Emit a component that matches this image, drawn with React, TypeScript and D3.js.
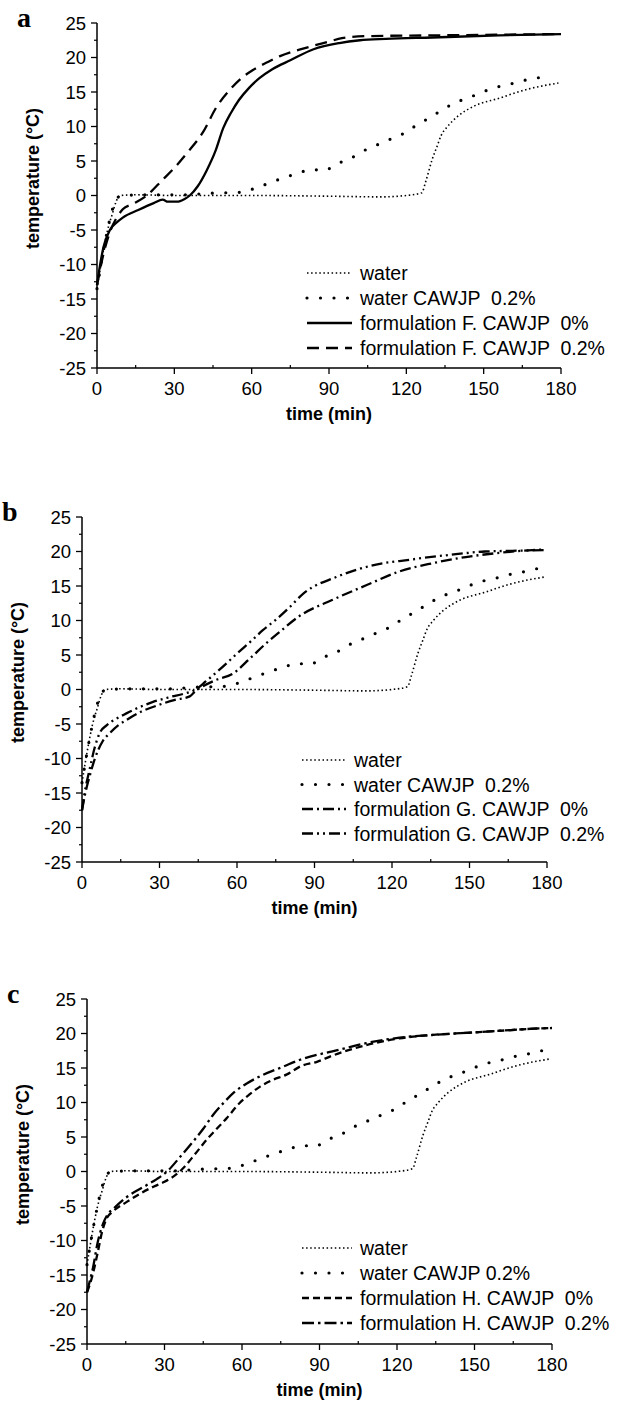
import * as d3 from 'd3'

// [time (min), temperature (°C)]
const water = [[0, -13.5], [2, -9], [4, -5.2], [6, -2.6], [7.5, -0.8], [9, 0], [15, 0.1], [30, 0], [60, 0], [90, -0.1], [110, -0.2], [120, 0], [126, 0.4], [127.5, 2], [130, 5.2], [132, 7.2], [133.5, 8.7], [136, 10], [140, 11.5], [146, 12.9], [156, 14.1], [167, 15.4], [179, 16.3]]
const waterCawjp = [[0, -13.5], [3, -7], [6, -2], [8, -0.3], [10, 0], [20, 0.1], [35, 0.1], [42, 0.3], [50, 0.4], [57, 0.5], [62, 1.2], [67, 1.8], [72.5, 2.6], [78, 3.2], [83, 3.8], [88, 3.6], [93, 4.6], [98, 5.3], [103, 6.4], [108.5, 7.3], [114, 8.2], [119, 9], [124, 10.2], [129.6, 11.4], [134.7, 12.6], [140, 13.6], [145.7, 14.4], [151, 15.2], [156, 15.8], [162, 16.3], [167, 16.8], [173, 17.2], [176, 17.5]]
const formF0 = [[0, -13], [1, -10.5], [2.5, -7.5], [5, -5], [8, -3.8], [10, -3.2], [16, -2.1], [22, -1.1], [25.5, -0.6], [27.5, -0.9], [31, -0.9], [34, -0.5], [36, 0], [39, 1.3], [42.5, 3.6], [46, 6.5], [49, 9.8], [52, 12], [55, 13.8], [59, 15.6], [63, 17], [68, 18.3], [75, 19.6], [84, 21.2], [94, 22.1], [102, 22.5], [112, 22.7], [130, 22.9], [156, 23.2], [180, 23.4]]
const formF02 = [[0, -13], [2.5, -8.5], [5, -5.3], [8, -3], [10, -2], [14, -1.2], [19, -0.1], [25.5, 2.3], [30, 4], [35, 6.2], [41, 9.1], [46.5, 12.9], [51.5, 15.3], [56, 17], [60.5, 18.2], [66, 19.3], [71, 20.2], [81, 21.4], [90, 22.3], [95, 22.8], [105, 23.1], [130, 23.2], [155, 23.3], [180, 23.4]]
const formG0 = [[0, -17.5], [1, -15.5], [3, -12.5], [5, -10], [8, -7.5], [10.8, -6.3], [14, -5.2], [17.3, -4.4], [23, -3.2], [30, -2.2], [36, -1.5], [41.7, -1], [44, -0.2], [47, 0.5], [52, 1.4], [58.4, 2.3], [65, 4.5], [71.3, 6.7], [77, 8.5], [84, 10.6], [97, 13], [110, 15.1], [122.8, 17.1], [135.7, 18.3], [148.6, 19.2], [161.5, 19.8], [174.3, 20.2], [179, 20.3]]
const formG02 = [[0, -17.5], [1, -15], [3, -11.5], [5, -8.3], [7, -6.2], [9.5, -5.2], [13, -4.3], [17, -3.5], [22, -2.6], [27.5, -1.8], [34, -1.1], [40, -0.55], [44, 0], [48, 1.2], [53, 2.8], [60, 5.2], [66, 7.2], [70, 8.6], [75, 10.1], [80, 11.8], [86, 14], [98.4, 16.3], [112.5, 18], [126.7, 18.8], [142, 19.5], [156, 20], [166.5, 20.1], [179, 20.2]]
const formH0 = [[0, -17.5], [1, -16.5], [2.5, -14.5], [4, -12], [6, -8.5], [7.6, -6.8], [10, -5.8], [15.4, -4.4], [25.7, -2.2], [30, -1.5], [33.4, -0.75], [37, 0.4], [42, 2.6], [46.3, 4.6], [50, 6.1], [54, 7.7], [59, 9.9], [62, 10.9], [67, 12.3], [72, 13.3], [77, 14], [83, 15.3], [89, 15.9], [95, 16.8], [108, 18.3], [121, 19.3], [134, 19.8], [147, 20.1], [160, 20.4], [173, 20.7], [180, 20.8]]
const formH02 = [[0, -17.5], [1, -16], [2.4, -13.8], [4, -10.5], [6.3, -7.5], [8, -6.2], [10.2, -5.4], [15.4, -3.7], [23, -2], [27, -1.1], [31, 0], [36, 2.1], [41, 4.3], [45, 6.2], [49, 8.3], [53, 10], [57, 11.5], [62, 12.8], [67, 13.8], [76, 15.2], [82.5, 16.2], [89, 16.9], [95, 17.4], [108, 18.6], [121, 19.4], [134, 19.8], [147, 20.1], [160, 20.4], [173, 20.7], [180, 20.8]]

const yTicks = [25, 20, 15, 10, 5, 0, -5, -10, -15, -20, -25]
const xTicks = [0, 30, 60, 90, 120, 150, 180]

const legendA = ['water', 'water CAWJP  0.2%', 'formulation F. CAWJP  0%', 'formulation F. CAWJP  0.2%']
const legendB = ['water', 'water CAWJP  0.2%', 'formulation G. CAWJP  0%', 'formulation G. CAWJP  0.2%']
const legendC = ['water', 'water CAWJP 0.2%', 'formulation H. CAWJP  0%', 'formulation H. CAWJP  0.2%']

const SANS = 'Liberation Sans, Arial, sans-serif'

const styles = {
  water: { dash: '1.5 2.6', width: 1.6, cap: 'butt' },
  cawjp: { dash: '0 13.5', width: 3.2, cap: 'round' },
  solid: { dash: null, width: 2.3, cap: 'butt' },
  longDash: { dash: '12 7', width: 2.3, cap: 'butt' },
  dashDot: { dash: '11 4 2 4', width: 2.3, cap: 'butt' },
  dashDotDot: { dash: '11 4 2 4 2 4', width: 2.3, cap: 'butt' },
  shortDash: { dash: '7 4', width: 2.3, cap: 'butt' },
  dashDotH: { dash: '12 4 2.5 4', width: 2.3, cap: 'butt' },
}

const panels = [
  {
    label: 'a', left: 97, right: 561, top: 23, bottom: 368, legendY: 273, legendStep: 25, legendX: 307, legendLen: 45, legend: legendA,
    series: [[water, styles.water], [waterCawjp, styles.cawjp], [formF0, styles.solid], [formF02, styles.longDash]],
  },
  {
    label: 'b', left: 82, right: 547, top: 517, bottom: 862, legendY: 760, legendStep: 24.5, legendX: 302, legendLen: 44, legend: legendB,
    series: [[water, styles.water], [waterCawjp, styles.cawjp], [formG0, styles.dashDot], [formG02, styles.dashDotDot]],
  },
  {
    label: 'c', left: 87, right: 552, top: 999, bottom: 1344, legendY: 1248, legendStep: 25, legendX: 302, legendLen: 50, legend: legendC,
    series: [[water, styles.water], [waterCawjp, styles.cawjp], [formH0, styles.shortDash], [formH02, styles.dashDotH]],
  },
]

function Panel({ p }) {
  const x = d3.scaleLinear().domain([0, 180]).range([p.left, p.right])
  const y = d3.scaleLinear().domain([-25, 25]).range([p.bottom, p.top])
  const line = d3.line().x((d) => x(d[0])).y((d) => y(d[1])).curve(d3.curveMonotoneX)
  const yMinor = d3.range(-22.5, 25, 5)
  const xMinor = d3.range(15, 180, 30)
  const yMid = (p.top + p.bottom) / 2

  return (
    <g>
      <text x={p.left - 80} y={p.top + 4} fontFamily="Liberation Serif, serif" fontWeight="bold" fontSize={28}>{p.label}</text>

      {p.series.map(([data, s], i) => (
        <path key={i} d={line(data)} fill="none" stroke="#000" strokeWidth={s.width}
          strokeDasharray={s.dash || undefined} strokeLinecap={s.cap} />
      ))}

      {/* axes */}
      <line x1={p.left} x2={p.left} y1={p.top} y2={p.bottom} stroke="#000" strokeWidth={1.5} />
      <line x1={p.left} x2={p.right} y1={p.bottom} y2={p.bottom} stroke="#000" strokeWidth={1.5} />
      {yTicks.map((t) => (
        <g key={t}>
          <line x1={p.left - 6} x2={p.left} y1={y(t)} y2={y(t)} stroke="#000" strokeWidth={1.3} />
          <text x={p.left - 11} y={y(t)} textAnchor="end" dominantBaseline="central" fontFamily={SANS} fontSize={18.5}>{t}</text>
        </g>
      ))}
      {yMinor.map((t) => (
        <line key={t} x1={p.left - 3} x2={p.left} y1={y(t)} y2={y(t)} stroke="#000" strokeWidth={1.2} />
      ))}
      {xTicks.map((t) => (
        <g key={t}>
          <line x1={x(t)} x2={x(t)} y1={p.bottom} y2={p.bottom + 6} stroke="#000" strokeWidth={1.3} />
          <text x={x(t)} y={p.bottom + 20} textAnchor="middle" dominantBaseline="central" fontFamily={SANS} fontSize={18.5}>{t}</text>
        </g>
      ))}
      {xMinor.map((t) => (
        <line key={t} x1={x(t)} x2={x(t)} y1={p.bottom - 3} y2={p.bottom} stroke="#000" strokeWidth={1.2} />
      ))}

      <text transform={`translate(${p.left - 64},${yMid - 17}) rotate(-90)`} textAnchor="middle" dominantBaseline="central"
        fontFamily={SANS} fontWeight="bold" fontSize={18}>temperature (°C)</text>
      <text x={(p.left + p.right) / 2} y={p.bottom + 46} textAnchor="middle" dominantBaseline="central"
        fontFamily={SANS} fontWeight="bold" fontSize={18}>time (min)</text>

      {/* legend */}
      {p.legend.map((name, i) => {
        const s = p.series[i][1]
        const ly = p.legendY + i * p.legendStep
        return (
          <g key={name}>
            <line x1={p.legendX} x2={p.legendX + p.legendLen} y1={ly} y2={ly} stroke="#000" strokeWidth={s.width}
              strokeDasharray={s.dash || undefined} strokeLinecap={s.cap} />
            <text x={p.legendX + p.legendLen + 8} y={ly} dominantBaseline="central" fontFamily={SANS} fontSize={19.5}
              style={{ whiteSpace: 'pre' }}>{name}</text>
          </g>
        )
      })}
    </g>
  )
}

export default function App() {
  return (
    <svg width={624} height={1402} style={{ position: 'absolute', left: 0, top: 0, background: '#fff' }}>
      <rect width={624} height={1402} fill="#fff" />
      {panels.map((p) => <Panel key={p.label} p={p} />)}
    </svg>
  )
}
